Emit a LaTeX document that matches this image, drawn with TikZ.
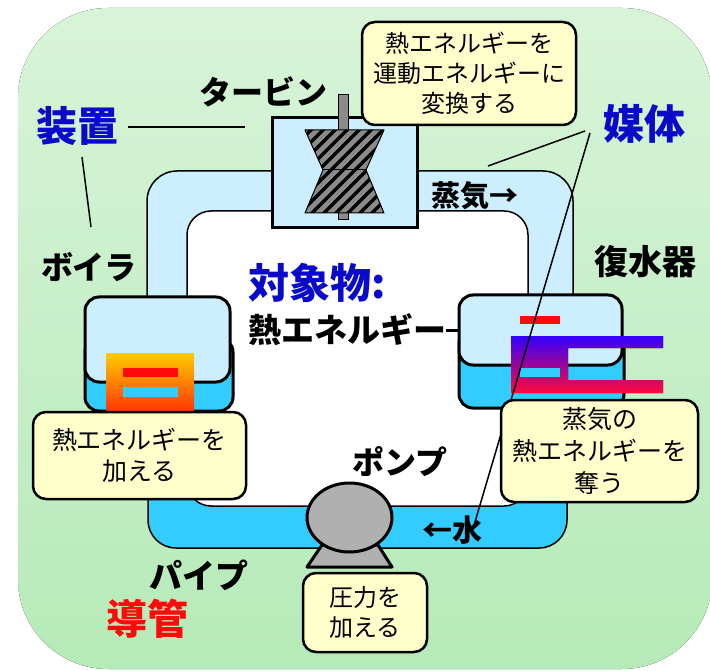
\documentclass[tikz,border=0pt]{standalone}
\usepackage{fontspec}
\setmainfont{Noto Sans CJK JP}
\usetikzlibrary{shapes.geometric}
\definecolor{bgtop}{HTML}{D8F4D8}
\definecolor{bgbot}{HTML}{B6EAB8}
\definecolor{steam}{HTML}{CCEEFF}
\definecolor{water}{HTML}{33CCFF}
\definecolor{note}{HTML}{FFFFCC}
\definecolor{navy}{HTML}{0A0AC8}
\definecolor{hotred}{HTML}{FF0A0A}
\definecolor{pumpgray}{HTML}{B0B0B0}
\definecolor{bladegray}{HTML}{8A8A8A}
\definecolor{flameTop}{HTML}{FFCC00}
\definecolor{flameBot}{HTML}{FF3300}
\definecolor{coolTop}{HTML}{3300FF}
\definecolor{coolBot}{HTML}{FF0A3A}
\tikzset{
  lbl/.style={font=\bfseries\fontsize{32}{36}\selectfont, inner sep=0},
  keyword/.style={font=\bfseries\fontsize{41}{44}\selectfont, inner sep=0, text=navy},
  callout/.style={draw, line width=2.5pt, rounded corners=13pt, fill=note, align=center,
    inner sep=0, font=\fontsize{24}{30}\selectfont},
  unit/.style={draw, line width=3pt, rounded corners=14pt, inner sep=0},
  leader/.style={line width=1.5pt},
  pipeline/.style={draw, line width=1.5pt},
}
\begin{document}
\begin{tikzpicture}[x=1pt,y=-1pt]
\useasboundingbox (0,0) rectangle (710,671);
% backdrop
\begin{scope}
  \clip (0,0) rectangle (710,671);
  \fill[top color=bgtop, bottom color=bgbot, rounded corners=90pt] (18,8) rectangle (712,669);
\end{scope}

% pipe loop: steam side, water side, hollow middle
\path[pipeline, fill=steam, rounded corners=30pt] (147,171) rectangle (573,420);
\path[pipeline, fill=water, rounded corners=28pt] (148,400) rectangle (567,548);
\path[pipeline, fill=white, rounded corners=24pt] (187,211) rectangle (528,506);

% turbine
\node[draw, line width=3pt, fill=steam, minimum width=145pt, minimum height=110pt, inner sep=0]
  (turbine) at (344.5,173) {};
\draw[fill=bladegray, line width=0.8pt] (338,94) rectangle (348,130);
\draw[fill=bladegray, line width=0.8pt] (338,212) rectangle (348,219);
\begin{scope}
  \clip (305,130) -- (384,130) -- (366,170) -- (384,213) -- (305,213) -- (323,170) -- cycle;
  \fill[bladegray] (300,125) rectangle (390,220);
  \foreach \k in {-10,...,10}
    \draw[line width=3.5pt] (300+12*\k,225) -- (410+12*\k,115);
\end{scope}
\draw[line width=1pt, line join=round] (305,130) -- (384,130) -- (366,170) -- (384,213) -- (305,213) -- (323,170) -- cycle;
\draw[line width=1pt] (323,170) -- (366,170);

% boiler
\node[unit, fill=water, minimum width=148pt, minimum height=73pt] (boilerbase) at (159,374.5) {};
\node[unit, fill=steam, minimum width=145pt, minimum height=85pt] (boiler) at (157.5,339.5) {};
\fill[top color=flameTop, bottom color=flameBot] (106,353) rectangle (194,412);
\fill[hotred] (123,368) rectangle (178,377);
\fill[water] (123,387) rectangle (178,397);

% condenser
\node[unit, fill=water, minimum width=165pt, minimum height=78pt] (condbase) at (541.5,369) {};
\node[unit, fill=steam, minimum width=163pt, minimum height=70pt] (condenser) at (540.5,330) {};
\fill[hotred] (520,316) rectangle (560,324);
\fill[top color=coolTop, bottom color=coolBot]
  (511,336) -- (663,336) -- (663,348) -- (568,348) -- (568,380) -- (663,380) -- (663,393) -- (511,393) -- cycle;
\fill[water] (520,368) rectangle (560,377);

% pump
\draw[fill=pumpgray, line width=3pt, line join=round] (322,545) -- (378,545) -- (392,567) -- (307,567) -- cycle;
\node[ellipse, draw, line width=3pt, fill=pumpgray, minimum width=85pt, minimum height=69pt, inner sep=0]
  (pump) at (349.5,517.5) {};

% labels
\node[lbl] (turbineLbl) at (263,92) {タービン};
\node[lbl] (boilerLbl) at (89,267) {ボイラ};
\node[lbl, font=\bfseries\fontsize{34}{38}\selectfont] (condLbl) at (645,262) {復水器};
\node[lbl] (pumpLbl) at (400,462) {ポンプ};
\node[lbl, font=\bfseries\fontsize{33}{36}\selectfont] (pipeLbl) at (199,575) {パイプ};
\node[lbl, font=\bfseries\fontsize{29}{32}\selectfont, anchor=west] (steamLbl) at (431,196) {蒸気→};
\node[lbl, font=\bfseries\fontsize{30}{32}\selectfont, anchor=west] (waterLbl) at (422,530) {←水};
\node[keyword] (device) at (77,126) {装置};
\node[keyword] (medium) at (644,124) {媒体};
\node[keyword, anchor=west] (target) at (248,283) {対象物:};
\node[lbl, font=\bfseries\fontsize{33}{36}\selectfont, anchor=west] (heat) at (248,330) {熱エネルギー};
\node[keyword, text=hotred] (conduit) at (147,619) {導管};

% leader lines
\coordinate (turbineTip) at (245,127);
\coordinate (boilerTip) at (91,227);
\coordinate (steamTip) at (488,166);
\coordinate (waterTip) at (472,532);
\draw[leader] (128,127) -- (turbineTip);
\draw[leader] (82,157) -- (boilerTip);
\draw[leader] (585,131) -- (steamTip);
\draw[leader] (590,133) -- (waterTip);
\draw[line width=3pt] (heat.east) -- (heat.east -| condenser.west);

% notes
\node[callout, minimum width=214pt, minimum height=103pt] (noteTurbine) at (469,73.5)
  {熱エネルギーを\\運動エネルギーに\\変換する};
\node[callout, minimum width=213pt, minimum height=87pt, font=\fontsize{25}{31}\selectfont]
  (noteBoiler) at (139.5,455.5) {熱エネルギーを\\加える};
\node[callout, minimum width=197pt, minimum height=102pt, font=\fontsize{25}{32}\selectfont]
  (noteCond) at (599.5,451) {蒸気の\\熱エネルギーを\\奪う};
\node[callout, minimum width=124pt, minimum height=79pt] (notePump) at (365,612.5)
  {圧力を\\加える};
\end{tikzpicture}
\end{document}
